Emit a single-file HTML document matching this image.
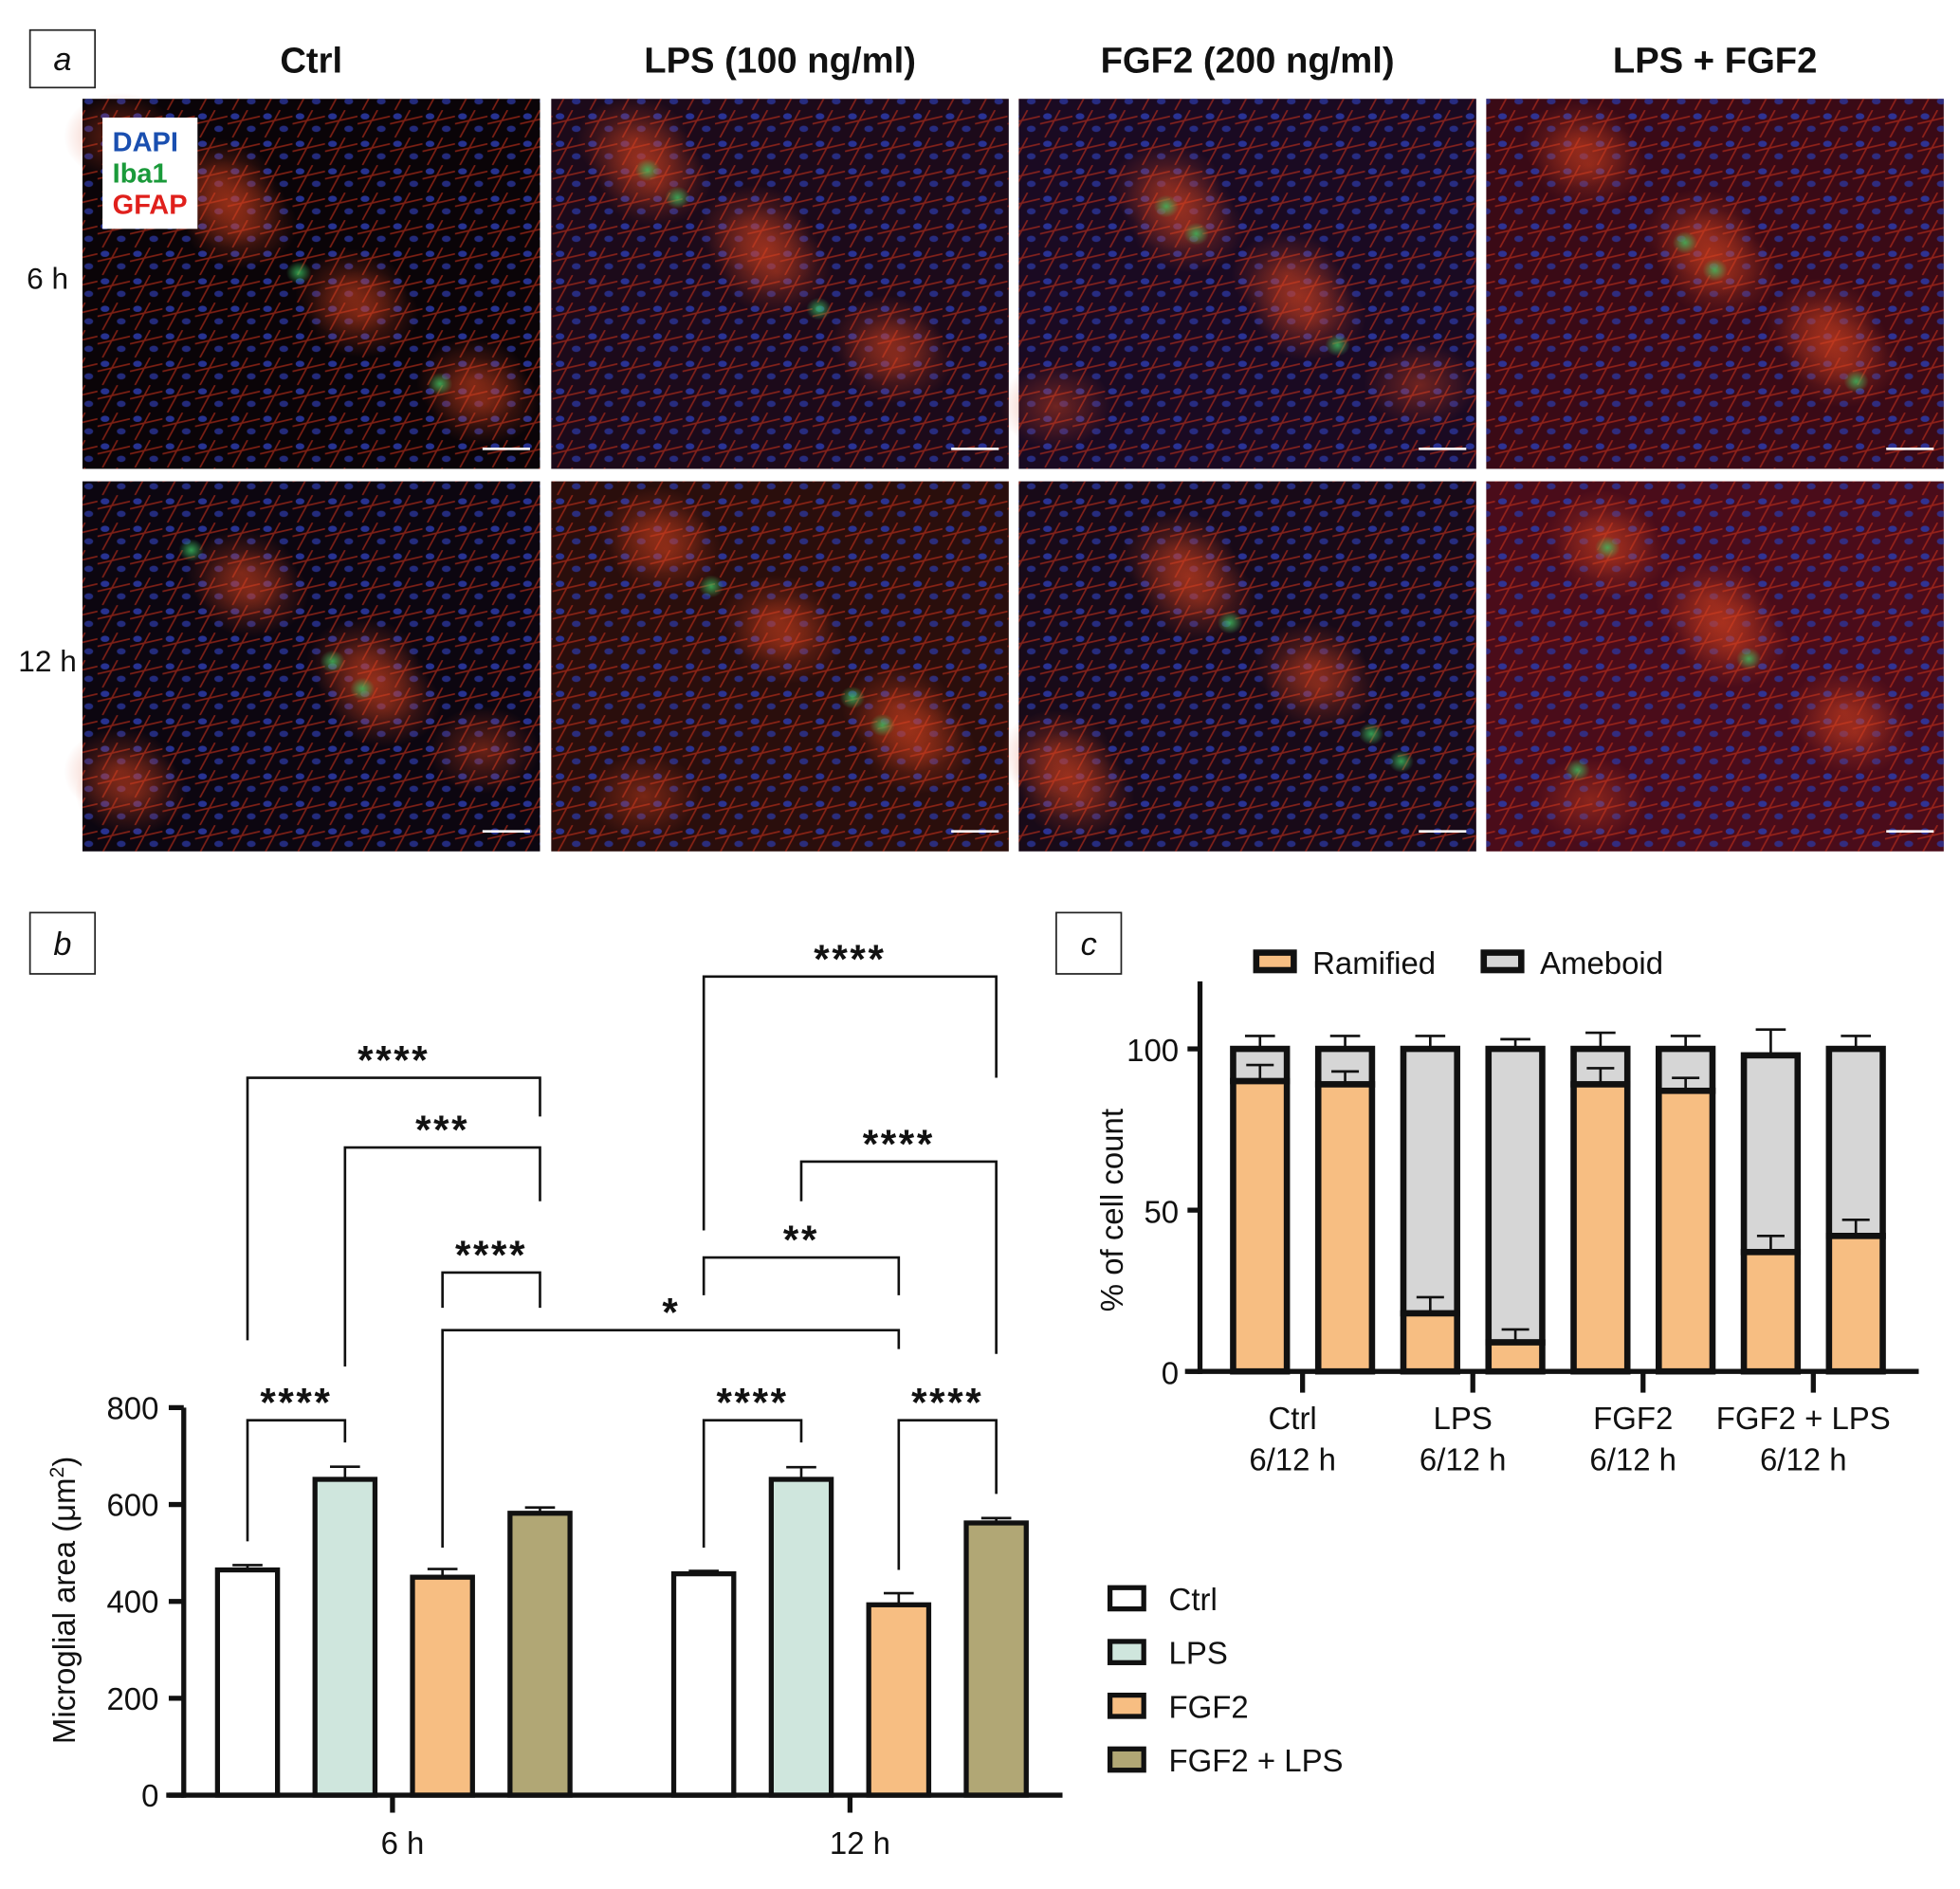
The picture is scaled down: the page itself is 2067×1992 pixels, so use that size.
<!DOCTYPE html>
<html><head><meta charset="utf-8"><style>
html,body{margin:0;padding:0;background:#fff}
svg{display:block}
text{font-family:"Liberation Sans Narrow","Liberation Sans",sans-serif;fill:#111}
</style></head><body>
<svg id="fig" width="2067" height="1992" viewBox="0 0 1568 1511" xmlns="http://www.w3.org/2000/svg">
<defs>
<pattern id="cells" width="26" height="22" patternUnits="userSpaceOnUse">
<ellipse cx="6" cy="5" rx="3.5" ry="2.5" fill="#2c3aa8" opacity="0.85"/>
<ellipse cx="19" cy="15" rx="3.5" ry="2.5" fill="#2a36a0" opacity="0.75"/>
<path d="M0 11 L26 5 M4 22 L16 0" stroke="#c8301a" stroke-width="1.3" opacity="0.6"/>
</pattern>
<radialGradient id="gr1"><stop offset="0" stop-color="#d84420" stop-opacity="0.45"/><stop offset="1" stop-color="#d84420" stop-opacity="0"/></radialGradient>
<radialGradient id="gg1"><stop offset="0" stop-color="#3cc060" stop-opacity="0.8"/><stop offset="1" stop-color="#3cc060" stop-opacity="0"/></radialGradient>
</defs>
<g id="panel-a"></g>
<g id="panel-b"></g>
<g id="panel-c"></g>
</svg>
<script>
// ---------- Panel b data ----------
const bGroups = ["6 h", "12 h"];
const bSeries = ["Ctrl", "LPS", "FGF2", "FGF2 + LPS"];
const bValues6 = [465, 652, 450, 582];
const bValues12 = [457, 652, 393, 562];
const bErr6 = [10, 26, 17, 12];
const bErr12 = [6, 25, 24, 10];
const bTicks = [0, 200, 400, 600, 800];
// brackets: [group a, bar a, group b, bar b, top value, left end value, right end value, label]
const bBrackets = [
 [0,0,0,1,774,524,728,"****"],
 [0,0,0,3,1481,939,1401,"****"],
 [0,1,0,3,1337,885,1226,"***"],
 [0,2,0,3,1079,1006,1006,"****"],
 [0,2,1,2,960,511,921,"*"],
 [1,0,1,2,1110,1032,1032,"**"],
 [1,0,1,3,1690,1166,1481,"****"],
 [1,1,1,3,1308,1226,911,"****"],
 [1,0,1,1,774,511,728,"****"],
 [1,2,1,3,774,465,622,"****"]
];
// ---------- Panel c data ----------
const cGroups = ["Ctrl", "LPS", "FGF2", "FGF2 + LPS"];
const cRamified = [90, 89, 18, 9, 89, 87, 37, 42];
const cTotal = [100, 100, 100, 100, 100, 100, 98, 100];
const cRamErr = [5, 4, 5, 4, 5, 4, 5, 5];
const cTotErr = [4, 4, 4, 3, 5, 4, 8, 4];
const cTicks = [0, 50, 100];

const NS = "http://www.w3.org/2000/svg";
function mk(tag, attrs, parent, txt){
  const e = document.createElementNS(NS, tag);
  for (const k in attrs) e.setAttribute(k, attrs[k]);
  if (txt !== undefined) e.textContent = txt;
  parent.appendChild(e);
  return e;
}

// ---------- Panel a ----------
const A = document.getElementById("panel-a");
const box = mk("rect",{x:24,y:24,width:52,height:46,fill:"#fff",stroke:"#222","stroke-width":1.3},A);


const la = mk("text",{x:50,y:56,"font-size":26,"font-style":"italic","text-anchor":"middle"},A,"a");


const colTitles = ["Ctrl","LPS (100 ng/ml)","FGF2 (200 ng/ml)","LPS + FGF2"];
const colX = [66,441,815,1189];
const rowY = [79,385];
const rowLabels = ["6 h","12 h"];
const tints = [["#0a0408","#0c0610"],["#1c0a1a","#2a0e0c"],["#1a0a22","#180a18"],["#3a0a16","#4a0c1a"]];
colTitles.forEach((t,i)=>{
  const e = mk("text",{x:colX[i]+183,y:58,"font-size":29,"font-weight":"bold","text-anchor":"middle"},A,t);
  
  
});
rowLabels.forEach((t,r)=>{
  const e = mk("text",{x:38,y:rowY[r]+152,"font-size":24,"text-anchor":"middle"},A,t);
  
  
});
for (let r=0;r<2;r++) for (let c=0;c<4;c++){
  const g = mk("g",{},A);
  
  
  const x=colX[c], y=rowY[r];
  mk("rect",{x:x,y:y,width:366,height:296,fill:tints[c][r]},g);
  mk("rect",{x:x,y:y,width:366,height:296,fill:"url(#cells)"},g);
  const seed = r*4+c;
  for (let k=0;k<8;k++){
    mk("ellipse",{cx:x+30+((k*97+seed*53)%300),cy:y+30+((k*71+seed*37)%230),rx:45,ry:35,fill:"url(#gr1)"},g);
  }
  for (let k=0;k<3;k++){
    mk("ellipse",{cx:x+60+((k*113+seed*41)%250),cy:y+50+((k*89+seed*29)%200),rx:10,ry:9,fill:"url(#gg1)"},g);
  }
  mk("line",{x1:x+320,y1:y+280,x2:x+358,y2:y+280,stroke:"#fff","stroke-width":2},g);
}
const lg = mk("g",{},A);


mk("rect",{x:82,y:94,width:76,height:89,fill:"#fff"},lg);
mk("text",{x:90,y:121,"font-size":22,"font-weight":"bold",style:"fill:#1a4fb0"},lg,"DAPI");
mk("text",{x:90,y:146,"font-size":22,"font-weight":"bold",style:"fill:#1a9a3a"},lg,"Iba1");
mk("text",{x:90,y:171,"font-size":22,"font-weight":"bold",style:"fill:#e0201c"},lg,"GFAP");

// ---------- Panel b ----------
const B = document.getElementById("panel-b");
const bb = mk("rect",{x:24,y:730,width:52,height:49,fill:"#fff",stroke:"#222","stroke-width":1.3},B);


const lb = mk("text",{x:50,y:764,"font-size":26,"font-style":"italic","text-anchor":"middle"},B,"b");


const bY0 = 1436, bPer = 0.3875;
const by = v => bY0 - v*bPer;
const bBarX = (g,i) => (g===0?174:539) + i*78;  // left edge
const bBarW = 48;
const bColors = ["#ffffff","#cfe6dd","#f7be82","#b1a775"];
const bVals = [bValues6, bValues12], bErrs = [bErr6, bErr12];
bVals.forEach((vals,g)=>{
  vals.forEach((v,i)=>{
    const x = bBarX(g,i), cx = x+bBarW/2;
    const e = mk("line",{x1:cx,y1:by(v),x2:cx,y2:by(v+bErrs[g][i]),stroke:"#111","stroke-width":2},B);
    
    
    mk("line",{x1:cx-12,y1:by(v+bErrs[g][i]),x2:cx+12,y2:by(v+bErrs[g][i]),stroke:"#111","stroke-width":2},B);
    const r = mk("rect",{x:x,y:by(v),width:bBarW,height:bY0-by(v),fill:bColors[i],stroke:"#111","stroke-width":4},B);
    
    
  });
});
mk("line",{x1:147,y1:1126,x2:147,y2:1438,stroke:"#111","stroke-width":4},B);
mk("line",{x1:133,y1:1436,x2:850,y2:1436,stroke:"#111","stroke-width":4},B);
bTicks.forEach(t=>{
  mk("line",{x1:135,y1:by(t),x2:147,y2:by(t),stroke:"#111","stroke-width":4},B);
  const e = mk("text",{x:127,y:by(t)+9,"font-size":25,"text-anchor":"end"},B,String(t));
  
  
});
[314,680].forEach((x,g)=>{
  mk("line",{x1:x,y1:1436,x2:x,y2:1450,stroke:"#111","stroke-width":4},B);
  const e = mk("text",{x:x+8,y:1483,"font-size":25,"text-anchor":"middle"},B,bGroups[g]);
  
  
});
const yt = mk("text",{x:0,y:0,"font-size":25,"text-anchor":"middle",transform:"translate(60,1280) rotate(-90)"},B);


yt.innerHTML = 'Microglial area (μm<tspan dy="-9" font-size="16">2</tspan><tspan dy="9">)</tspan>';
bBrackets.forEach((k,n)=>{
  const xa = bBarX(k[0],k[1])+bBarW/2, xb = bBarX(k[2],k[3])+bBarW/2;
  const ty = by(k[4]);
  const p = mk("path",{d:`M${xa} ${by(k[5])} V${ty} H${xb} V${by(k[6])}`,fill:"none",stroke:"#111","stroke-width":2},B);
  
  
  const star = k[7]==="*";
  const tx = star ? xa+183 : (xa+xb)/2;
  const e = mk("text",{x:tx,y:ty-3,"font-size":32,"font-weight":"bold","text-anchor":"middle","letter-spacing":"2"},B,k[7]);
  
  
});
bSeries.forEach((s,i)=>{
  const y = 1270 + i*43;
  const r = mk("rect",{x:888,y:y,width:27,height:17,fill:bColors[i],stroke:"#111","stroke-width":4},B);
  
  
  const e = mk("text",{x:935,y:y+18,"font-size":25},B,s);
  
  
});

// ---------- Panel c ----------
const C = document.getElementById("panel-c");
const cb = mk("rect",{x:845,y:730,width:52,height:49,fill:"#fff",stroke:"#222","stroke-width":1.3},C);


const lc = mk("text",{x:871,y:764,"font-size":26,"font-style":"italic","text-anchor":"middle"},C,"c");


const cY0 = 1097, cPer = 2.58;
const cy = v => cY0 - v*cPer;
const cBarC = i => 1008 + i*68.1;
const cW = 43;
cRamified.forEach((v,i)=>{
  const x = cBarC(i)-cW/2, cx=cBarC(i);
  const t = cTotal[i];
  mk("line",{x1:cx,y1:cy(t),x2:cx,y2:cy(t+cTotErr[i]),stroke:"#111","stroke-width":2},C);
  mk("line",{x1:cx-12,y1:cy(t+cTotErr[i]),x2:cx+12,y2:cy(t+cTotErr[i]),stroke:"#111","stroke-width":2},C);
  const a = mk("rect",{x:x,y:cy(t),width:cW,height:cy(v)-cy(t),fill:"#d6d6d6",stroke:"#111","stroke-width":5},C);
  
  
  const r = mk("rect",{x:x,y:cy(v),width:cW,height:cY0-cy(v),fill:"#f7be82",stroke:"#111","stroke-width":5},C);
  
  
  mk("line",{x1:cx,y1:cy(v),x2:cx,y2:cy(v+cRamErr[i]),stroke:"#111","stroke-width":2},C);
  mk("line",{x1:cx-11,y1:cy(v+cRamErr[i]),x2:cx+11,y2:cy(v+cRamErr[i]),stroke:"#111","stroke-width":2},C);
});
mk("line",{x1:960,y1:785,x2:960,y2:1099,stroke:"#111","stroke-width":4},C);
mk("line",{x1:948,y1:1097,x2:1535,y2:1097,stroke:"#111","stroke-width":4},C);
cTicks.forEach(t=>{
  mk("line",{x1:950,y1:cy(t),x2:960,y2:cy(t),stroke:"#111","stroke-width":4},C);
  const e = mk("text",{x:943,y:cy(t)+10,"font-size":25,"text-anchor":"end"},C,String(t));
  
  
});
cGroups.forEach((g,i)=>{
  const x = (cBarC(2*i)+cBarC(2*i+1))/2;
  mk("line",{x1:x,y1:1097,x2:x,y2:1114,stroke:"#111","stroke-width":4},C);
  const e = mk("text",{x:x-8,y:1143,"font-size":25,"text-anchor":"middle"},C,g);
  
  
  const e2 = mk("text",{x:x-8,y:1176,"font-size":25,"text-anchor":"middle"},C,"6/12 h");
  
  
});
const cyt = mk("text",{x:0,y:0,"font-size":25,"text-anchor":"middle",transform:"translate(898,968) rotate(-90)"},C,"% of cell count");


[["Ramified","#f7be82",1005,1050],["Ameboid","#d6d6d6",1187,1232]].forEach((L,i)=>{
  const r = mk("rect",{x:L[2],y:762,width:30,height:14,fill:L[1],stroke:"#111","stroke-width":5},C);
  
  
  const e = mk("text",{x:L[3],y:779,"font-size":25},C,L[0]);
  
  
});
</script>
</body></html>
